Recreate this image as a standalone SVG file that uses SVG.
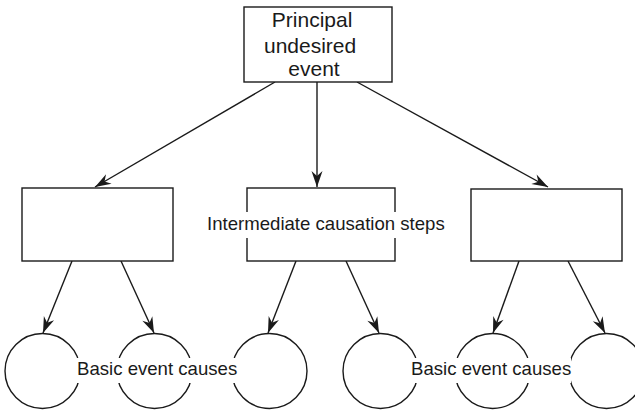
<svg xmlns="http://www.w3.org/2000/svg" width="635" height="410" viewBox="0 0 635 410">
  <style>
    .box { fill: #fff; stroke: #1a1a1a; stroke-width: 1.4; }
    .circ { fill: #fff; stroke: #1a1a1a; stroke-width: 1.4; }
    .edge { fill: none; stroke: #1a1a1a; stroke-width: 1.4; }
    .lbl { font-family: "Liberation Sans", Arial, sans-serif; fill: #1a1a1a; }
    .knock { fill: #fff; stroke: none; }
  </style>
  <defs>
    <marker id="arrow" markerUnits="userSpaceOnUse" markerWidth="18" markerHeight="14" viewBox="-17 -7 18 14" refX="0" refY="0" orient="auto">
      <path d="M0,0 L-16,-5.5 L-11,0 L-16,5.5 Z" fill="#1a1a1a"/>
    </marker>
  </defs>

  <g id="connectors">
    <line class="edge" x1="275" y1="82" x2="95" y2="187" marker-end="url(#arrow)"/>
    <line class="edge" x1="317" y1="82" x2="317" y2="187" marker-end="url(#arrow)"/>
    <line class="edge" x1="357" y1="82" x2="548" y2="187" marker-end="url(#arrow)"/>
    <line class="edge" x1="72" y1="261" x2="43" y2="333" marker-end="url(#arrow)"/>
    <line class="edge" x1="121" y1="261" x2="154" y2="333" marker-end="url(#arrow)"/>
    <line class="edge" x1="296" y1="261" x2="268" y2="333" marker-end="url(#arrow)"/>
    <line class="edge" x1="346" y1="261" x2="379" y2="333" marker-end="url(#arrow)"/>
    <line class="edge" x1="519" y1="261" x2="493" y2="333" marker-end="url(#arrow)"/>
    <line class="edge" x1="568" y1="261" x2="605" y2="333" marker-end="url(#arrow)"/>
  </g>

  <g id="top-event">
    <rect class="box" x="244" y="7" width="148" height="75"/>
    <text class="lbl" font-size="21" text-anchor="middle">
      <tspan x="315" y="27">Principal</tspan>
      <tspan x="313" y="53">undesired</tspan>
      <tspan x="314" y="76">event</tspan>
    </text>
  </g>

  <g id="step-left">
    <rect class="box" x="22" y="188" width="151" height="73"/>
  </g>
  <g id="step-middle">
    <rect class="box" x="247" y="188" width="148" height="73"/>
  </g>
  <g id="step-right">
    <rect class="box" x="471" y="189" width="151" height="72"/>
  </g>

  <g id="cause-1"><circle class="circ" cx="42.5" cy="371" r="37.5"/></g>
  <g id="cause-2"><circle class="circ" cx="154.5" cy="371" r="37.5"/></g>
  <g id="cause-3"><circle class="circ" cx="269.5" cy="371" r="37.5"/></g>
  <g id="cause-4"><circle class="circ" cx="380.5" cy="371" r="37.5"/></g>
  <g id="cause-5"><circle class="circ" cx="492.5" cy="371" r="37.5"/></g>
  <g id="cause-6"><circle class="circ" cx="606.5" cy="371" r="37.5"/></g>

  <g id="labels">
    <rect class="knock" x="205" y="212" width="242" height="26"/>
    <text class="lbl" font-size="18.6" x="207" y="230">Intermediate causation steps</text>
    <rect class="knock" x="75" y="358" width="164" height="25"/>
    <text class="lbl" font-size="18.6" x="77" y="375">Basic event causes</text>
    <rect class="knock" x="409" y="358" width="162" height="25"/>
    <text class="lbl" font-size="18.6" x="411" y="375">Basic event causes</text>
  </g>
</svg>
